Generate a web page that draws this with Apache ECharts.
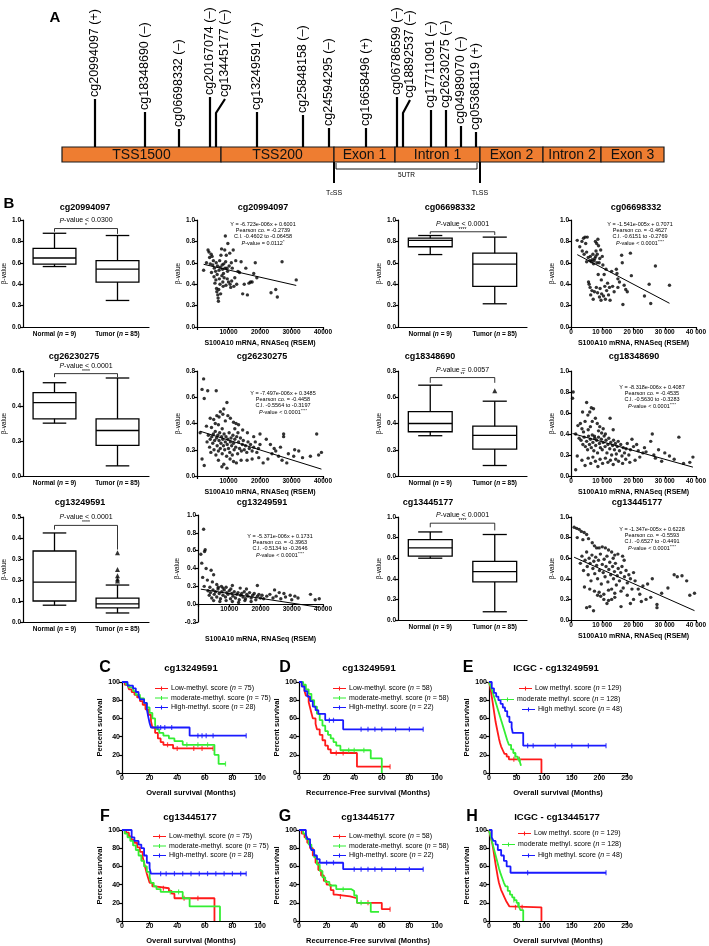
<!DOCTYPE html>
<html>
<head>
<meta charset="utf-8">
<script src="https://cdn.jsdelivr.net/npm/echarts@6.0.0/dist/echarts.min.js"></script>
<style>html,body{margin:0;padding:0;background:#fff;}#chart{width:709px;height:946px;}</style>
</head>
<body>
<div id="chart"></div>
<script>
// ---------------- Panel A data ----------------
const regionNames = ['TSS1500','TSS200','Exon 1','Intron 1','Exon 2','Intron 2','Exon 3'];
const regionBounds = [0,159,272,333,418,481,539,602];
const probeNames = ['cg20994097 (+)','cg18348690 (–)','cg06698332 (–)','cg20167074 (–)','cg13445177 (–)','cg13249591 (+)','cg25848158 (–)','cg24594295 (–)','cg16658496 (+)','cg06786599 (–)','cg18892537 (–)','cg17711091 (–)','cg26230275 (–)','cg04989070 (–)','cg05368119 (+)'];
const probePos = [33,83,117,148,154,195,241,267,304,335,341,369,384,399,414];
const probeStem = [48,35,18,50,48,35,32,19,19,50,47,37,37,21,15];
const siteNames = ['TcSS','TLSS'];
const sitePos = [272,418];
const utrSpan = [274,415];

// ---------------- Panel B box plots [min, Q1, median, Q3, max] ----------------
const boxCategories = ['Normal (n = 9)','Tumor (n = 85)'];
const box_cg20994097 = [[0.565,0.587,0.645,0.735,0.876],[0.248,0.42,0.54,0.62,0.855]];
const box_cg06698332 = [[0.677,0.75,0.81,0.83,0.855],[0.217,0.38,0.587,0.69,0.84]];
const box_cg26230275 = [[0.302,0.327,0.419,0.477,0.533],[0.058,0.175,0.26,0.327,0.56]];
const box_cg18348690 = [[0.307,0.337,0.40,0.49,0.692],[0.08,0.205,0.31,0.38,0.57]];
const box_cg13249591 = [[0.08,0.10,0.19,0.338,0.424],[0.043,0.067,0.086,0.114,0.176]];
const box_cg13445177 = [[0.60,0.62,0.70,0.78,0.855],[0.08,0.37,0.47,0.57,0.83]];
const outliers_cg18348690 = [0.65];
const outliers_cg13249591 = [0.33,0.25,0.22,0.205,0.195];
// bracket: [bracket level, left leg end, right leg end]
const bracket_cg20994097 = [0.92,0.89,0.87];
const bracket_cg06698332 = [0.89,0.87,0.86];
const bracket_cg26230275 = [0.585,0.565,0.565];
const bracket_cg18348690 = [0.75,0.71,0.71];
const bracket_cg13249591 = [0.46,0.44,0.345];
const bracket_cg13445177 = [0.94,0.90,0.87];
const pText = ['< 0.0300','< 0.0001','< 0.0001','= 0.0057','< 0.0001','< 0.0001'];
const pStars = ['*','****','****','**','****','****'];

// ---------------- Panel B scatter (x = S100A10 RSEM, y = beta) ----------------
const sc_cg20994097 = [[2100,0.53],[3000,0.60],[3500,0.72],[3800,0.70],[4000,0.65],[4200,0.59],[4500,0.68],[4600,0.51],[4800,0.66],[5000,0.58],[5200,0.62],[5400,0.47],[5500,0.55],[5700,0.41],[5900,0.52],[6000,0.44],[6100,0.60],[6200,0.36],[6300,0.33],[6400,0.49],[6500,0.57],[6600,0.30],[6700,0.27],[6800,0.24],[6900,0.35],[7000,0.53],[7100,0.45],[7200,0.62],[7300,0.40],[7400,0.56],[7500,0.31],[7600,0.67],[7800,0.73],[7900,0.48],[8000,0.58],[8100,0.54],[8200,0.42],[8300,0.38],[8400,0.50],[8500,0.59],[8600,0.46],[8800,0.72],[8900,0.55],[9000,0.85],[9100,0.61],[9200,0.39],[9300,0.67],[9500,0.55],[9600,0.45],[9700,0.52],[9800,0.78],[10000,0.42],[10200,0.57],[10400,0.69],[10500,0.40],[10700,0.37],[10900,0.60],[11000,0.43],[11200,0.55],[11500,0.72],[11700,0.38],[12000,0.46],[12300,0.62],[12600,0.40],[13000,0.52],[13500,0.51],[14000,0.61],[14500,0.31],[15000,0.40],[15500,0.55],[16000,0.30],[16500,0.41],[17000,0.42],[17500,0.42],[18000,0.50],[18500,0.60],[19000,0.46],[23500,0.32],[25000,0.35],[25500,0.28],[27000,0.61],[31500,0.44]];
const sc_cg06698332 = [[2000,0.81],[2800,0.75],[3500,0.80],[3600,0.71],[4000,0.83],[4200,0.68],[4500,0.84],[4700,0.78],[5000,0.70],[5000,0.61],[5200,0.84],[5500,0.65],[5600,0.42],[5800,0.40],[6000,0.62],[6100,0.37],[6200,0.66],[6300,0.30],[6500,0.61],[6700,0.34],[6800,0.63],[7000,0.68],[7100,0.26],[7200,0.59],[7400,0.62],[7500,0.33],[7600,0.64],[7800,0.80],[7900,0.66],[8000,0.71],[8100,0.37],[8200,0.78],[8300,0.60],[8400,0.68],[8500,0.32],[8600,0.82],[8700,0.49],[8800,0.76],[9000,0.60],[9100,0.28],[9200,0.64],[9300,0.36],[9500,0.72],[9600,0.25],[9700,0.44],[9800,0.31],[10000,0.66],[10200,0.58],[10400,0.29],[10600,0.49],[10800,0.38],[11000,0.26],[11200,0.54],[11400,0.34],[11700,0.41],[12000,0.30],[12300,0.37],[12500,0.25],[13000,0.52],[13300,0.38],[13800,0.33],[14500,0.54],[14700,0.50],[15000,0.45],[15000,0.37],[15500,0.42],[16200,0.67],[16400,0.60],[16600,0.21],[17000,0.39],[17500,0.35],[18000,0.33],[19000,0.69],[19300,0.48],[23500,0.29],[25000,0.40],[25500,0.22],[27000,0.57],[31500,0.39]];
const sc_cg26230275 = [[1600,0.66],[2100,0.74],[3400,0.65],[2300,0.59],[6100,0.65],[9500,0.56],[8500,0.51],[7400,0.49],[9800,0.46],[6300,0.46],[5300,0.43],[4200,0.44],[11600,0.41],[8200,0.47],[7000,0.45],[10600,0.44],[12400,0.40],[13200,0.39],[9000,0.42],[5800,0.40],[3000,0.38],[1000,0.33],[4600,0.37],[6800,0.39],[8000,0.36],[3200,0.26],[3600,0.31],[4000,0.22],[4200,0.28],[4400,0.18],[4700,0.30],[5000,0.25],[5200,0.32],[5400,0.20],[5600,0.27],[5800,0.34],[6000,0.16],[6200,0.29],[6400,0.23],[6600,0.31],[6800,0.19],[7000,0.27],[7200,0.33],[7400,0.21],[7600,0.25],[7800,0.30],[8000,0.17],[8200,0.28],[8400,0.23],[8600,0.32],[8800,0.20],[9000,0.26],[9200,0.30],[9400,0.15],[9600,0.24],[9800,0.28],[10000,0.21],[10200,0.33],[10400,0.18],[10600,0.26],[10800,0.29],[11000,0.23],[11200,0.16],[11400,0.31],[11600,0.25],[11800,0.20],[12000,0.28],[12300,0.22],[12600,0.30],[12900,0.17],[13200,0.26],[13500,0.21],[13800,0.29],[14100,0.19],[14400,0.24],[14700,0.27],[15000,0.20],[15400,0.23],[15800,0.18],[16200,0.26],[16600,0.21],[17000,0.24],[17500,0.19],[18000,0.22],[18500,0.26],[19000,0.18],[19500,0.21],[20000,0.24],[1600,0.13],[2300,0.08],[7900,0.07],[9500,0.06],[11600,0.11],[8500,0.09],[6800,0.12],[10500,0.13],[12500,0.10],[14000,0.12],[15900,0.12],[19600,0.14],[17500,0.13],[21000,0.10],[22500,0.13],[23800,0.17],[25900,0.15],[27000,0.12],[28500,0.10],[30700,0.15],[32300,0.19],[38600,0.16],[39500,0.18],[24500,0.21],[26500,0.22],[23300,0.24],[20000,0.32],[27500,0.32],[27500,0.30],[38000,0.32],[22000,0.28],[18000,0.30],[16000,0.33],[14500,0.35],[13000,0.33],[12000,0.36],[25000,0.19],[29000,0.17],[31000,0.20],[33500,0.14],[36000,0.15]];
const sc_cg18348690 = [[700,0.80],[500,0.74],[5000,0.70],[3700,0.61],[6500,0.65],[7200,0.64],[6000,0.61],[5400,0.58],[12500,0.55],[7800,0.55],[4500,0.52],[3000,0.50],[2200,0.48],[8400,0.50],[9200,0.47],[6800,0.52],[10300,0.45],[3500,0.45],[5500,0.44],[4000,0.42],[1500,0.40],[2600,0.36],[6200,0.47],[8800,0.43],[11000,0.40],[13500,0.44],[9800,0.41],[7500,0.38],[3200,0.34],[3800,0.30],[4200,0.37],[4600,0.28],[5000,0.33],[5300,0.25],[5600,0.38],[5900,0.30],[6200,0.35],[6500,0.27],[6800,0.39],[7000,0.32],[7300,0.24],[7600,0.36],[7900,0.29],[8200,0.34],[8500,0.22],[8800,0.37],[9100,0.31],[9400,0.27],[9700,0.35],[10000,0.25],[10300,0.32],[10600,0.38],[10900,0.28],[11200,0.34],[11500,0.22],[11800,0.30],[12100,0.36],[12400,0.26],[12700,0.32],[13000,0.20],[13300,0.29],[13600,0.34],[13900,0.25],[14200,0.31],[14500,0.21],[14800,0.28],[15100,0.33],[15500,0.24],[15900,0.30],[16300,0.19],[16700,0.27],[17100,0.22],[17600,0.26],[18000,0.31],[18500,0.20],[19000,0.25],[19500,0.35],[20000,0.28],[1500,0.06],[2000,0.19],[3500,0.15],[4500,0.10],[5500,0.17],[6300,0.12],[7000,0.18],[7800,0.14],[8600,0.09],[9300,0.16],[10100,0.12],[11000,0.17],[11800,0.13],[12600,0.15],[13500,0.11],[14300,0.16],[15200,0.14],[16500,0.12],[17500,0.16],[18800,0.13],[21000,0.30],[22000,0.18],[23000,0.22],[24000,0.23],[25500,0.33],[26000,0.40],[27000,0.17],[28000,0.25],[29000,0.14],[30000,0.22],[31500,0.19],[33000,0.16],[34500,0.37],[36000,0.12],[38000,0.13],[39000,0.18],[21500,0.24],[23500,0.27],[26500,0.20],[20500,0.15]];
const sc_cg13249591 = [[1800,0.84],[2300,0.61],[2100,0.59],[900,0.56],[1200,0.46],[2600,0.40],[4200,0.38],[5000,0.33],[1500,0.30],[3000,0.27],[4600,0.25],[6000,0.22],[2000,0.20],[7500,0.20],[9000,0.19],[11000,0.21],[13500,0.18],[15500,0.17],[19000,0.21],[24500,0.16],[26000,0.13],[27500,0.12],[29500,0.10],[31000,0.09],[36000,0.11],[37500,0.05],[38800,0.06],[3200,0.15],[3600,0.10],[4000,0.13],[4400,0.07],[4800,0.16],[5200,0.11],[5600,0.14],[6000,0.08],[6400,0.17],[6800,0.12],[7200,0.06],[7600,0.14],[8000,0.10],[8400,0.16],[8800,0.08],[9200,0.13],[9600,0.11],[10000,0.15],[10400,0.06],[10800,0.12],[11200,0.09],[11600,0.14],[12000,0.07],[12400,0.11],[12800,0.13],[13200,0.05],[13600,0.10],[14000,0.12],[14400,0.08],[14800,0.14],[15200,0.06],[15600,0.11],[16000,0.09],[16500,0.13],[17000,0.07],[17500,0.10],[18000,0.12],[18500,0.05],[19000,0.09],[19500,0.11],[20000,0.07],[20500,0.10],[21000,0.06],[22000,0.09],[23000,0.11],[24000,0.07],[25000,0.09],[26500,0.06],[28000,0.08],[30000,0.05],[32000,0.07],[5000,0.04],[7000,0.03],[9000,0.04],[11000,0.03],[13000,0.02],[15000,0.04],[17000,0.03],[8000,0.18],[6500,0.19],[10500,0.17],[3800,0.19]];
const sc_cg13445177 = [[1000,0.90],[1800,0.89],[2600,0.88],[3300,0.86],[4200,0.85],[5000,0.83],[2000,0.80],[3800,0.78],[5600,0.79],[6800,0.75],[7500,0.72],[8200,0.70],[9000,0.70],[10000,0.71],[11000,0.70],[12000,0.68],[13000,0.66],[14000,0.63],[15000,0.64],[16500,0.62],[17000,0.58],[13500,0.60],[3000,0.55],[3500,0.62],[4000,0.48],[4500,0.58],[5000,0.66],[5200,0.52],[5500,0.44],[5800,0.60],[6100,0.55],[6400,0.38],[6700,0.63],[7000,0.50],[7300,0.57],[7600,0.45],[7900,0.61],[8200,0.53],[8500,0.40],[8800,0.58],[9100,0.48],[9400,0.64],[9700,0.35],[10000,0.54],[10300,0.46],[10600,0.59],[10900,0.42],[11200,0.52],[11500,0.62],[11800,0.37],[12100,0.49],[12400,0.56],[12700,0.44],[13000,0.30],[13300,0.52],[13600,0.40],[13900,0.47],[14200,0.55],[14500,0.34],[14800,0.43],[15100,0.50],[15500,0.38],[15900,0.46],[16300,0.52],[16700,0.31],[17100,0.42],[17600,0.48],[18000,0.36],[18500,0.44],[19000,0.40],[19500,0.30],[20000,0.46],[4300,0.32],[6000,0.30],[7500,0.28],[9000,0.27],[10500,0.25],[12000,0.29],[14000,0.26],[16000,0.28],[5000,0.12],[6000,0.13],[7200,0.09],[16000,0.13],[8500,0.24],[9500,0.23],[10500,0.20],[12000,0.19],[13000,0.20],[14000,0.22],[20000,0.20],[22000,0.25],[24000,0.20],[25500,0.22],[27500,0.15],[27500,0.12],[29000,0.26],[31000,0.31],[37000,0.38],[38000,0.24],[39500,0.26],[34000,0.42],[33000,0.44],[35500,0.43],[26000,0.40],[18000,0.24],[20500,0.38],[23000,0.33],[21500,0.30],[24500,0.35],[22500,0.18],[19000,0.16],[11500,0.16]];
// linear fits [slope, intercept]
const fit_cg20994097 = [-6.723e-6,0.6001];
const fit_cg06698332 = [-1.541e-5,0.7071];
const fit_cg26230275 = [-7.497e-6,0.3485];
const fit_cg18348690 = [-8.318e-6,0.4087];
const fit_cg13249591 = [-5.371e-6,0.1731];
const fit_cg13445177 = [-1.347e-5,0.6228];
const stat_cg20994097 = ['Y = -6.723e-006x + 0.6001','Pearson co. = -0.2739','C.I. -0.4602 to -0.06458','= 0.0112','*'];
const stat_cg06698332 = ['Y = -1.541e-005x + 0.7071','Pearson co. = -0.4627','C.I. -0.6151 to -0.2769','< 0.0001','****'];
const stat_cg26230275 = ['Y = -7.497e-006x + 0.3485','Pearson co. = -0.4458','C.I. -0.5564 to -0.3197','< 0.0001','****'];
const stat_cg18348690 = ['Y = -8.318e-006x + 0.4087','Pearson co. = -0.4535','C.I. -0.5630 to -0.3283','< 0.0001','****'];
const stat_cg13249591 = ['Y = -5.371e-006x + 0.1731','Pearson co. = -0.3963','C.I. -0.5134 to -0.2646','< 0.0001','****'];
const stat_cg13445177 = ['Y = -1.347e-005x + 0.6228','Pearson co. = -0.5593','C.I. -0.6527 to -0.4491','< 0.0001','****'];

// ---------------- Panels C-H Kaplan-Meier (months, % survival) ----------------
const C_low = [[0,100],[2,97],[4,95],[5,92],[7,89],[9,86],[11,83],[13,79],[15,75],[17,70],[19,64],[21,57],[22,50],[24,44],[26,38],[28,34],[30,31],[37,27],[66,27]];
const C_mod = [[0,100],[3,97],[5,94],[8,90],[10,86],[13,82],[16,77],[18,72],[20,66],[22,60],[24,53],[25,48],[27,44],[30,41],[34,38],[38,35],[44,31],[67,20],[70,10],[75,10]];
const C_high = [[0,100],[4,96],[8,93],[10,89],[12,85],[13,81],[16,77],[18,70],[19,62],[20,55],[21,50],[49,41],[90,41]];
const C_low_cens = [[33,31],[40,27],[52,27],[58,27],[66,27]];
const C_mod_cens = [[47,31],[55,31],[62,31],[75,10]];
const C_high_cens = [[26,50],[28,50],[31,50],[36,50],[55,41],[58,41],[61,41],[66,41],[90,41]];
const D_low = [[0,100],[2,96],[4,90],[5,85],[7,78],[8,72],[9,66],[10,60],[12,54],[13,48],[15,42],[17,36],[19,30],[21,26],[23,22],[42,7],[66,7]];
const D_mod = [[0,100],[3,97],[5,92],[7,87],[9,80],[11,73],[13,65],[15,58],[17,52],[19,46],[21,42],[23,38],[25,34],[27,30],[30,25],[52,16],[60,0]];
const D_high = [[0,100],[2,95],[4,90],[6,84],[8,79],[10,73],[12,69],[14,65],[19,58],[32,48],[90,48]];
const D_low_cens = [[27,22],[32,22],[66,7]];
const D_mod_cens = [[36,25],[40,25],[47,25]];
const D_high_cens = [[22,58],[25,58],[45,48],[50,48],[55,48],[60,48],[70,48],[80,48],[90,48]];
const E_low = [[0,100],[2,95],[4,88],[6,80],[8,72],[10,64],[12,56],[14,50],[16,44],[18,38],[20,33],[22,29],[25,25],[28,21],[32,18],[36,15],[95,0]];
const E_mod = [[0,100],[3,95],[6,90],[9,84],[12,78],[15,72],[18,66],[21,60],[24,54],[27,48],[30,42],[33,36],[36,31],[40,26],[44,22],[48,18],[52,15],[56,12],[58,8]];
const E_high = [[0,100],[5,93],[9,88],[13,84],[17,80],[21,76],[25,72],[29,68],[33,62],[37,56],[41,50],[43,44],[62,30],[212,30]];
const E_low_cens = [[45,15],[55,15]];
const E_mod_cens = [[47,18],[54,15]];
const E_high_cens = [[70,30],[80,30],[120,30],[150,30],[180,30],[212,30]];
const F_low = [[0,100],[3,97],[5,93],[7,89],[9,86],[11,81],[13,76],[15,70],[16,64],[17,58],[18,52],[19,47],[20,42],[22,38],[24,36],[34,33],[36,30],[38,25],[67,0]];
const F_mod = [[0,100],[2,96],[4,92],[6,88],[8,83],[10,78],[12,72],[14,66],[16,60],[18,54],[20,48],[21,42],[23,38],[25,35],[28,32],[44,25],[49,16],[71,0]];
const F_high = [[0,100],[7,92],[9,88],[12,84],[14,80],[16,72],[18,64],[20,58],[21,52],[90,52]];
const F_low_cens = [[30,36],[45,25],[55,25]];
const F_mod_cens = [[35,32],[41,32]];
const F_high_cens = [[28,52],[32,52],[38,52],[44,52],[50,52],[56,52],[62,52],[68,52],[74,52],[80,52],[86,52],[90,52]];
const G_low = [[0,100],[2,96],[4,92],[6,86],[8,80],[10,72],[12,64],[14,56],[16,50],[18,44],[20,40],[23,34],[25,29],[27,27],[37,25],[42,20],[60,13],[66,13]];
const G_mod = [[0,100],[3,96],[5,90],[7,84],[9,78],[11,70],[13,62],[15,55],[17,48],[19,43],[22,39],[27,35],[38,33],[40,28],[42,20],[52,10],[58,10]];
const G_high = [[0,100],[5,95],[6,90],[8,83],[9,78],[11,72],[13,68],[15,64],[32,57],[90,57]];
const G_low_cens = [[30,27],[50,20],[66,13]];
const G_mod_cens = [[32,35],[45,20]];
const G_high_cens = [[20,64],[25,64],[40,57],[45,57],[50,57],[55,57],[60,57],[70,57],[80,57],[90,57]];
const H_low = [[0,100],[2,95],[4,90],[6,85],[8,78],[10,70],[12,62],[14,55],[16,48],[18,42],[20,38],[22,34],[25,30],[28,26],[31,22],[34,19],[37,16],[40,15],[95,0]];
const H_mod = [[0,100],[3,93],[6,86],[9,79],[12,72],[15,65],[18,58],[21,52],[24,47],[27,42],[30,38],[34,33],[38,29],[42,26],[46,23],[50,20],[54,16],[57,12],[62,0]];
const H_high = [[0,100],[5,92],[8,88],[12,84],[16,78],[22,72],[27,66],[32,60],[39,53],[212,53]];
const H_low_cens = [[48,15],[60,15]];
const H_mod_cens = [[45,23],[52,18]];
const H_high_cens = [[70,53],[212,53]];
const legendTCGA_OS = ['Low-methyl. score (n = 75)','moderate-methyl. score (n = 75)','High-methyl. score (n = 28)'];
const legendTCGA_RFS = ['Low-methyl. score (n = 58)','moderate-methyl. score (n = 58)','High-methyl. score (n = 22)'];
const legendICGC = ['Low methyl. score (n = 129)','moderate methyl. score (n = 128)','High methyl. score (n = 48)'];

// ---------------- build ----------------
const FF = '"Liberation Sans", Arial, Helvetica, sans-serif';
const RED = '#ff1a1a', GREEN = '#33ee33', BLUE = '#1a1aff';
const grids = [], xAxes = [], yAxes = [], series = [], legends = [], gfx = [];
let gi = -1;
function addGrid(g, xa, ya) { gi++; grids.push(g); xa.gridIndex = gi; ya.gridIndex = gi; xAxes.push(xa); yAxes.push(ya); return gi; }
function T(x, y, text, size, o) {
  o = o || {};
  return { type: 'text', x: x, y: y, rotation: o.rot || 0, z: 50,
    style: { text: text, fontSize: size, fontFamily: FF, fontWeight: o.bold ? 'bold' : 'normal', fontStyle: o.italic ? 'italic' : 'normal',
      fill: '#000', align: o.align || 'center', verticalAlign: 'middle', rich: o.rich } };
}
function axisCommon(fs) {
  return { axisLine: { show: true, onZero: false, lineStyle: { color: '#000', width: 1.2 } },
    axisTick: { show: true, length: 3, lineStyle: { color: '#000', width: 1.2 } },
    axisLabel: { color: '#000', fontFamily: FF, fontWeight: 'bold', fontSize: fs || 6.5, margin: 2 },
    splitLine: { show: false } };
}
const italicRich = (fs, bold) => ({ i: { fontStyle: 'italic', fontSize: fs, fontFamily: FF, fontWeight: bold ? 'bold' : 'normal', color: '#000' } });

// ----- Panel A -----
const gA = addGrid({ left: 62, top: 0, width: 602, height: 195 },
  { type: 'value', min: 0, max: 602, show: false }, { type: 'value', min: -48, max: 147, show: false });
series.push({ type: 'custom', xAxisIndex: gA, yAxisIndex: gA, clip: false, z: 2,
  data: regionNames.map((n, i) => [regionBounds[i], regionBounds[i + 1]]),
  renderItem: (p, api) => {
    const a = api.coord([api.value(0), 0]), b = api.coord([api.value(1), -15]);
    return { type: 'group', children: [
      { type: 'rect', shape: { x: a[0], y: a[1], width: b[0] - a[0], height: b[1] - a[1] }, style: { fill: '#ee7d31', stroke: '#1a1a1a', lineWidth: 1.2 } },
      { type: 'text', x: (a[0] + b[0]) / 2, y: (a[1] + b[1]) / 2 + 0.5, style: { text: regionNames[p.dataIndex], fontSize: 14, fontFamily: FF, fill: '#111', align: 'center', verticalAlign: 'middle' } }
    ] };
  } });
const kinkShift = { 4: 9, 10: 7 };
series.push({ type: 'custom', xAxisIndex: gA, yAxisIndex: gA, clip: false, z: 3,
  data: probePos.map((x, i) => [x, probeStem[i]]),
  renderItem: (p, api) => {
    const i = p.dataIndex, x = api.value(0), h = api.value(1);
    const base = api.coord([x, 0]);
    let top, line;
    if (kinkShift[i]) {
      const mid = api.coord([x, 34]);
      top = api.coord([x + kinkShift[i], h]);
      line = { type: 'polyline', shape: { points: [base, mid, top] }, style: { stroke: '#000', lineWidth: 2.2, fill: 'none' } };
    } else {
      top = api.coord([x, h]);
      line = { type: 'line', shape: { x1: base[0], y1: base[1], x2: top[0], y2: top[1] }, style: { stroke: '#000', lineWidth: 2.2 } };
    }
    return { type: 'group', children: [line,
      { type: 'text', x: top[0], y: top[1] - 2, rotation: Math.PI / 2,
        style: { text: probeNames[i], fontSize: 12.5, fontFamily: FF, fill: '#000', align: 'left', verticalAlign: 'middle' } }] };
  } });
series.push({ type: 'custom', xAxisIndex: gA, yAxisIndex: gA, clip: false, z: 3,
  data: sitePos.map(x => [x]),
  renderItem: (p, api) => {
    const a = api.coord([api.value(0), -15]), b = api.coord([api.value(0), -36]), t = api.coord([api.value(0), -46]);
    const nm = siteNames[p.dataIndex];
    return { type: 'group', children: [
      { type: 'line', shape: { x1: a[0], y1: a[1], x2: b[0], y2: b[1] }, style: { stroke: '#000', lineWidth: 2 } },
      { type: 'text', x: t[0], y: t[1], style: { text: nm[0] + '{s|' + nm[1] + '}' + nm.slice(2), fontSize: 7, fontFamily: FF, fill: '#000', align: 'center', verticalAlign: 'middle', rich: { s: { fontSize: 5, fontFamily: FF, padding: [2, 0, 0, 0] } } } }
    ] };
  } });
series.push({ type: 'custom', xAxisIndex: gA, yAxisIndex: gA, clip: false, z: 3,
  data: [utrSpan],
  renderItem: (p, api) => {
    const a = api.coord([api.value(0), -22]), b = api.coord([api.value(1), -22]);
    const au = api.coord([api.value(0), -16]), bu = api.coord([api.value(1), -16]);
    const t = api.coord([(api.value(0) + api.value(1)) / 2, -28]);
    return { type: 'group', children: [
      { type: 'polyline', shape: { points: [au, a, b, bu] }, style: { stroke: '#000', lineWidth: 0.9, fill: 'none' } },
      { type: 'text', x: t[0], y: t[1], style: { text: '5UTR', fontSize: 6.5, fontFamily: FF, fill: '#000', align: 'center', verticalAlign: 'middle' } }
    ] };
  } });
gfx.push(T(55, 18, 'A', 15, { bold: true }));
gfx.push(T(9, 204, 'B', 15, { bold: true }));

// ----- Panel B helpers -----
function addBox(pos, ymax, interval, boxes, outliers, bracket, k, header) {
  const x = Object.assign(axisCommon(6.5), { type: 'category', data: boxCategories });
  x.axisTick = { show: false };
  x.axisLabel.interval = 0;
  x.axisLabel.hideOverlap = false;
  x.axisLabel.formatter = v => v.replace('(n', '({i|n}');
  x.axisLabel.rich = italicRich(6.5, true);
  x.axisLabel.margin = 4;
  const y = Object.assign(axisCommon(6.5), { type: 'value', min: 0, max: ymax, interval: interval, name: 'β-value', nameLocation: 'middle', nameGap: 15,
    nameTextStyle: { fontFamily: FF, fontSize: 6.5, color: '#000' } });
  y.axisLabel.formatter = v => v.toFixed(1);
  const g = addGrid({ left: pos[0], top: pos[1], width: pos[2], height: pos[3] }, x, y);
  series.push({ type: 'custom', xAxisIndex: g, yAxisIndex: g, z: 3,
    data: boxes.map((b, i) => [i].concat(b)),
    renderItem: (p, api) => {
      const c = api.value(0), cx = api.coord([c, 0])[0];
      const bw = api.size([1, 0])[0] * 0.68, cw = bw * 0.55;
      const v = [1, 2, 3, 4, 5].map(j => api.coord([c, api.value(j)])[1]);
      const st = { stroke: '#000', lineWidth: 1.3, fill: 'none' };
      return { type: 'group', children: [
        { type: 'rect', shape: { x: cx - bw / 2, y: v[3], width: bw, height: v[1] - v[3] }, style: { stroke: '#000', lineWidth: 1.3, fill: '#fff' } },
        { type: 'line', shape: { x1: cx - bw / 2, y1: v[2], x2: cx + bw / 2, y2: v[2] }, style: st },
        { type: 'line', shape: { x1: cx, y1: v[3], x2: cx, y2: v[4] }, style: st },
        { type: 'line', shape: { x1: cx - cw / 2, y1: v[4], x2: cx + cw / 2, y2: v[4] }, style: st },
        { type: 'line', shape: { x1: cx, y1: v[1], x2: cx, y2: v[0] }, style: st },
        { type: 'line', shape: { x1: cx - cw / 2, y1: v[0], x2: cx + cw / 2, y2: v[0] }, style: st }
      ] };
    } });
  if (outliers.length) series.push({ type: 'scatter', xAxisIndex: g, yAxisIndex: g, symbol: 'triangle', symbolSize: 5, itemStyle: { color: '#000' }, data: outliers.map(o => [1, o]), z: 4 });
  series.push({ type: 'custom', xAxisIndex: g, yAxisIndex: g, clip: false, z: 4,
    data: [bracket],
    renderItem: (p, api) => {
      const a = api.coord([0, api.value(0)]), b = api.coord([1, api.value(0)]);
      const l = api.coord([0, api.value(1)]), r = api.coord([1, api.value(2)]);
      const mx = (a[0] + b[0]) / 2;
      return { type: 'group', children: [
        { type: 'polyline', shape: { points: [l, a, b, r] }, style: { stroke: '#000', lineWidth: 0.8, fill: 'none' } },
        { type: 'text', x: mx, y: a[1] - 8, style: { text: '{i|P}-value ' + pText[k], fontSize: 7, fontFamily: FF, fill: '#000', align: 'center', verticalAlign: 'middle', rich: italicRich(7) } },
        { type: 'text', x: mx, y: a[1] - 2.5, style: { text: pStars[k], fontSize: 5, fontFamily: FF, fill: '#000', align: 'center', verticalAlign: 'middle' } }
      ] };
    } });
  gfx.push(T(header[0], header[1], header[2], 9, { bold: true }));
}
function addScatter(pos, ymin, ymax, interval, pts, fit, stat, header, textPos, showZero, spaced) {
  const x = Object.assign(axisCommon(6.5), { type: 'value', min: 0, max: 40000, interval: 10000, name: 'S100A10 mRNA, RNASeq (RSEM)', nameLocation: 'middle', nameGap: pos[5] || 13,
    nameTextStyle: { fontFamily: FF, fontSize: 7, fontWeight: 'bold', color: '#000' } });
  if (pos[4]) x.offset = pos[4];
  x.axisLabel.formatter = v => v === 0 ? (showZero ? '0' : '') : (spaced ? String(v / 1000) + ' 000' : String(v));
  const y = Object.assign(axisCommon(6.5), { type: 'value', min: ymin, max: ymax, interval: interval, name: 'β-value', nameLocation: 'middle', nameGap: 15,
    nameTextStyle: { fontFamily: FF, fontSize: 6.5, color: '#000' } });
  y.axisLabel.formatter = v => v.toFixed(1);
  const g = addGrid({ left: pos[0], top: pos[1], width: pos[2], height: pos[3] }, x, y);
  series.push({ type: 'scatter', xAxisIndex: g, yAxisIndex: g, symbolSize: 3.4, itemStyle: { color: '#000' }, data: pts, z: 3 });
  const xs = pts.map(p => p[0]);
  const x0 = Math.min.apply(null, xs), x1 = Math.max.apply(null, xs);
  series.push({ type: 'line', xAxisIndex: g, yAxisIndex: g, symbol: 'none', lineStyle: { color: '#000', width: 1 }, z: 4,
    data: [[x0, fit[0] * x0 + fit[1]], [x1, fit[0] * x1 + fit[1]]] });
  gfx.push(T(header[0], header[1], header[2], 9, { bold: true }));
  const [tx, ty] = textPos;
  gfx.push(T(tx, ty, stat[0], 5.5));
  gfx.push(T(tx, ty + 6.3, stat[1], 5.5));
  gfx.push(T(tx, ty + 12.6, stat[2], 5.5));
  gfx.push(T(tx, ty + 19, '{i|P}-value ' + stat[3] + '{s|' + stat[4] + '}', 5.5, { rich: { i: { fontStyle: 'italic', fontSize: 5.5, fontFamily: FF }, s: { fontSize: 4, fontFamily: FF, padding: [0, 0, 3, 0] } } }));
}

// Row 1
addBox([21, 220, 128, 107], 1.0, 0.2, box_cg20994097, [], bracket_cg20994097, 0, [85, 208, 'cg20994097']);
addScatter([197, 220, 126, 107], 0, 1.0, 0.2, sc_cg20994097, fit_cg20994097, stat_cg20994097, [263, 208, 'cg20994097'], [263, 224], false, false);
addBox([398, 220, 129, 107], 1.0, 0.2, box_cg06698332, [], bracket_cg06698332, 1, [450, 208, 'cg06698332']);
addScatter([571, 220, 127, 107], 0, 1.0, 0.2, sc_cg06698332, fit_cg06698332, stat_cg06698332, [636, 208, 'cg06698332'], [640, 224], true, true);
// Row 2
addBox([21, 371, 128, 105], 0.6, 0.2, box_cg26230275, [], bracket_cg26230275, 2, [74, 357, 'cg26230275']);
addScatter([197, 371, 126, 105], 0, 0.8, 0.2, sc_cg26230275, fit_cg26230275, stat_cg26230275, [262, 357, 'cg26230275'], [283, 393], false, false);
addBox([398, 371, 129, 105], 0.8, 0.2, box_cg18348690, outliers_cg18348690, bracket_cg18348690, 3, [430, 357, 'cg18348690']);
addScatter([571, 371, 127, 105], 0, 1.0, 0.2, sc_cg18348690, fit_cg18348690, stat_cg18348690, [634, 357, 'cg18348690'], [652, 387], true, true);
// Row 3
addBox([21, 517, 128, 105], 0.5, 0.1, box_cg13249591, outliers_cg13249591, bracket_cg13249591, 4, [80, 503, 'cg13249591']);
addScatter([198, 515, 125, 107, -17.8, 31], -0.2, 1.0, 0.2, sc_cg13249591, fit_cg13249591, stat_cg13249591, [262, 503, 'cg13249591'], [280, 536], false, false);
addBox([398, 517, 129, 103], 1.0, 0.2, box_cg13445177, [], bracket_cg13445177, 5, [428, 503, 'cg13445177']);
addScatter([571, 517, 127, 103], 0, 1.0, 0.2, sc_cg13445177, fit_cg13445177, stat_cg13445177, [637, 503, 'cg13445177'], [652, 529], true, true);

// ----- KM panels -----
function addKM(pos, xmax, xint, xname, curves, legendNames, legendPos, letter, title) {
  const x = Object.assign(axisCommon(7), { type: 'value', min: 0, max: xmax, interval: xint, name: xname, nameLocation: 'middle', nameGap: 16,
    nameTextStyle: { fontFamily: FF, fontSize: 7.5, fontWeight: 'bold', color: '#000' } });
  const y = Object.assign(axisCommon(7), { type: 'value', min: 0, max: 100, interval: 20, name: 'Percent survival', nameLocation: 'middle', nameGap: 15,
    nameTextStyle: { fontFamily: FF, fontSize: 7.5, fontWeight: 'bold', color: '#000' } });
  const g = addGrid({ left: pos[0], top: pos[1], width: pos[2], height: pos[3] }, x, y);
  const order = [1, 0, 2];
  const cols = [RED, GREEN, BLUE];
  order.forEach(j => {
    series.push({ type: 'line', name: legendNames[j], xAxisIndex: g, yAxisIndex: g, data: curves[j][0], step: 'end', symbol: 'none',
      lineStyle: { color: cols[j], width: 1.8 }, itemStyle: { color: cols[j] }, z: 3 + j });
    series.push({ type: 'scatter', xAxisIndex: g, yAxisIndex: g, data: curves[j][1], symbol: 'rect', symbolSize: [1.2, 5], itemStyle: { color: cols[j] }, z: 3 + j });
  });
  legendPos.forEach(lp => {
    legends.push({ orient: 'vertical', left: lp[0], top: lp[1], itemGap: 2.5, itemWidth: 13, itemHeight: 5, padding: 0, selectedMode: false,
      icon: 'path://M0,2.2h20v1.6h-20zM9.2,0h1.6v6h-1.6z', data: lp[2],
      formatter: n => n.replace('(n', '({i|n}'),
      textStyle: { fontSize: 7, fontFamily: FF, color: '#000', padding: [0, 0, 0, -2], rich: italicRich(7) } });
  });
  gfx.push(T(letter[0], letter[1], letter[2], 16, { bold: true }));
  gfx.push(T(title[0], title[1], title[2], 9.5, { bold: true }));
}
addKM([122, 682, 138, 91], 100, 20, 'Overall survival (Months)', [[C_low, C_low_cens], [C_mod, C_mod_cens], [C_high, C_high_cens]], legendTCGA_OS,
  [[155, 685, legendTCGA_OS]], [105, 668, 'C'], [191, 668, 'cg13249591']);
addKM([299, 682, 138, 91], 100, 20, 'Recurrence-Free survival (Months)', [[D_low, D_low_cens], [D_mod, D_mod_cens], [D_high, D_high_cens]], legendTCGA_RFS,
  [[333, 685, legendTCGA_RFS]], [285, 668, 'D'], [369, 668, 'cg13249591']);
addKM([489, 682, 138, 91], 250, 50, 'Overall survival (Months)', [[E_low, E_low_cens], [E_mod, E_mod_cens], [E_high, E_high_cens]], legendICGC,
  [[519, 685, [legendICGC[0]]], [501, 696, [legendICGC[1]]], [522, 706, [legendICGC[2]]]], [468, 668, 'E'], [556, 668, 'ICGC - cg13249591']);
addKM([122, 830, 138, 92], 100, 20, 'Overall survival (Months)', [[F_low, F_low_cens], [F_mod, F_mod_cens], [F_high, F_high_cens]], legendTCGA_OS,
  [[153, 833, legendTCGA_OS]], [105, 817, 'F'], [190, 817, 'cg13445177']);
addKM([299, 830, 138, 92], 100, 20, 'Recurrence-Free survival (Months)', [[G_low, G_low_cens], [G_mod, G_mod_cens], [G_high, G_high_cens]], legendTCGA_RFS,
  [[333, 833, legendTCGA_RFS]], [285, 817, 'G'], [368, 817, 'cg13445177']);
addKM([489, 830, 138, 92], 250, 50, 'Overall survival (Months)', [[H_low, H_low_cens], [H_mod, H_mod_cens], [H_high, H_high_cens]], legendICGC,
  [[518, 830, [legendICGC[0]]], [502, 841, [legendICGC[1]]], [522, 852, [legendICGC[2]]]], [472, 817, 'H'], [557, 817, 'ICGC - cg13445177']);

const chart = echarts.init(document.getElementById('chart'), null, { renderer: 'canvas' });
chart.setOption({ animation: false, backgroundColor: '#fff', grid: grids, xAxis: xAxes, yAxis: yAxes, series: series, legend: legends, graphic: { elements: gfx } });
</script>
</body>
</html>
